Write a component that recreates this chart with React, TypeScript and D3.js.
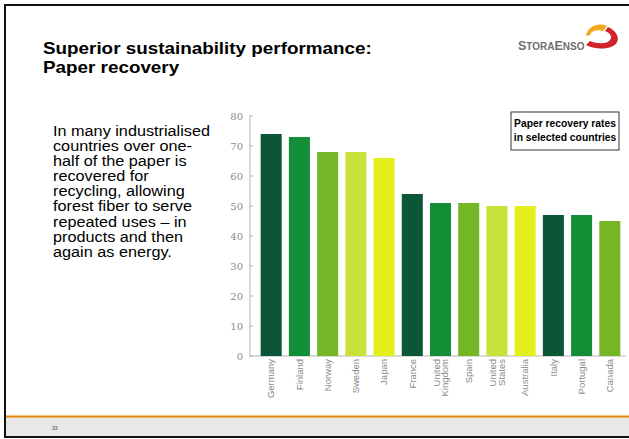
import React from "react";
import * as d3 from "d3";

const countries = ["Germany", "Finland", "Norway", "Sweden", "Japan", "France", "United Kingdom", "Spain", "United States", "Australia", "Italy", "Portugal", "Canada"];
const labelLines = [["Germany"], ["Finland"], ["Norway"], ["Sweden"], ["Japan"], ["France"], ["United", "Kingdom"], ["Spain"], ["United", "States"], ["Australia"], ["Italy"], ["Portugal"], ["Canada"]];
const recoveryRates = [74, 73, 68, 68, 66, 54, 51, 51, 50, 50, 47, 47, 45];
const palette = ["#0b5636", "#128e36", "#74b626", "#c8e23a", "#e4f01a"];
const yTicks = [0, 10, 20, 30, 40, 50, 60, 70, 80];
const titleLines = ["Superior sustainability performance:", "Paper recovery"];
const legendLines = ["Paper recovery rates", "in selected countries"];
const bodyLines = [
  "In many industrialised",
  "countries over one-",
  "half of the paper is",
  "recovered for",
  "recycling, allowing",
  "forest fiber to serve",
  "repeated uses \u2013 in",
  "products and then",
  "again as energy.",
];

const SX = 1.09;
const BODY_SX = 1.16;

export default function App() {
  const W = 629, H = 439;
  const x = d3.scaleBand<string>().domain(countries).range([257, 624]).paddingInner(0.255).paddingOuter(0.13);
  const y = d3.scaleLinear().domain([0, 80]).range([356, 116]);
  const axisX = 250;
  return (
    <svg width={W} height={H} style={{ position: "absolute", left: 0, top: 0, background: "#fff" }} fontFamily="Liberation Sans, Arial, sans-serif">
      <rect x={0} y={0} width={W} height={H} fill="#fff" />
      {/* footer band */}
      <rect x={5} y={417} width={W} height={20} fill="#e8e8e8" />
      <line x1={5} x2={W} y1={416.5} y2={416.5} stroke="#e8870a" strokeWidth={2} />
      <text x={52} y={430} fontSize={5} fill="#333">33</text>
      {/* frame */}
      <rect x={5} y={5} width={W + 10} height={432} fill="none" stroke="#111" strokeWidth={2} />

      {/* title */}
      <g transform={`translate(43,0) scale(${SX},1)`}>
        {titleLines.map((l, i) => (
          <text key={i} x={0} y={54.5 + i * 19} fontSize={17.3} fontWeight="bold" fill="#000">{l}</text>
        ))}
      </g>

      {/* logo */}
      <text x={518} y={50} fill="#707070" fontWeight="bold">
        <tspan fontSize={12.5}>S</tspan><tspan fontSize={10}>TORA</tspan><tspan fontSize={12.5}>E</tspan><tspan fontSize={10}>NSO</tspan>
      </text>
      <path d="M586,36 C587,27 598,22 607,26 L603,31 C597,29 591,31 590,35 Z" fill="#f2a91c" />
      <path d="M608,27 C619,32 621,42 613,46 C605,50 593,49 586,45 L590,41 C597,44 606,44 609,41 C613,38 611,33 605,31 Z" fill="#d2232a" />

      {/* body text */}
      <g transform={`translate(53,0) scale(${BODY_SX},1)`}>
        {bodyLines.map((l, i) => (
          <text key={i} x={0} y={136 + i * 15.1} fontSize={14} fill="#000">{l}</text>
        ))}
      </g>

      {/* axes */}
      <line x1={axisX} x2={axisX} y1={y(80)} y2={y(0)} stroke="#b5b5b5" strokeWidth={1} />
      <line x1={axisX} x2={626} y1={y(0)} y2={y(0)} stroke="#b5b5b5" strokeWidth={1} />
      {yTicks.map((t) => (
        <g key={t}>
          <line x1={axisX - 1} x2={axisX + 3} y1={y(t)} y2={y(t)} stroke="#b5b5b5" />
          <text x={243} y={y(t) + 3.5} fontSize={10} fill="#8a8a8a" textAnchor="end" fontFamily="DejaVu Serif, serif">{t}</text>
        </g>
      ))}

      {/* bars */}
      {countries.map((c, i) => (
        <rect key={c} x={x(c)} y={y(recoveryRates[i])} width={x.bandwidth()} height={y(0) - y(recoveryRates[i])} fill={palette[i % palette.length]} />
      ))}

      {/* x labels */}
      {countries.map((c, i) => {
        const cx = (x(c) as number) + x.bandwidth() / 2;
        const lines = labelLines[i];
        return (
          <text key={c} transform={`translate(${cx},359) rotate(-90)`} fontSize={9.5} fill="#8a8a8a" textAnchor="end">
            {lines.map((l, j) => (
              <tspan key={j} x={0} y={(j - (lines.length - 1) / 2) * 8.5 + 3.3}>{l}</tspan>
            ))}
          </text>
        );
      })}

      {/* legend box */}
      <rect x={511} y={112} width={108} height={38} fill="#fff" stroke="#333" strokeWidth={1} />
      {legendLines.map((l, i) => (
        <text key={i} x={565} y={127 + i * 13.5} fontSize={10.3} fontWeight="bold" textAnchor="middle" fill="#000">{l}</text>
      ))}
    </svg>
  );
}
